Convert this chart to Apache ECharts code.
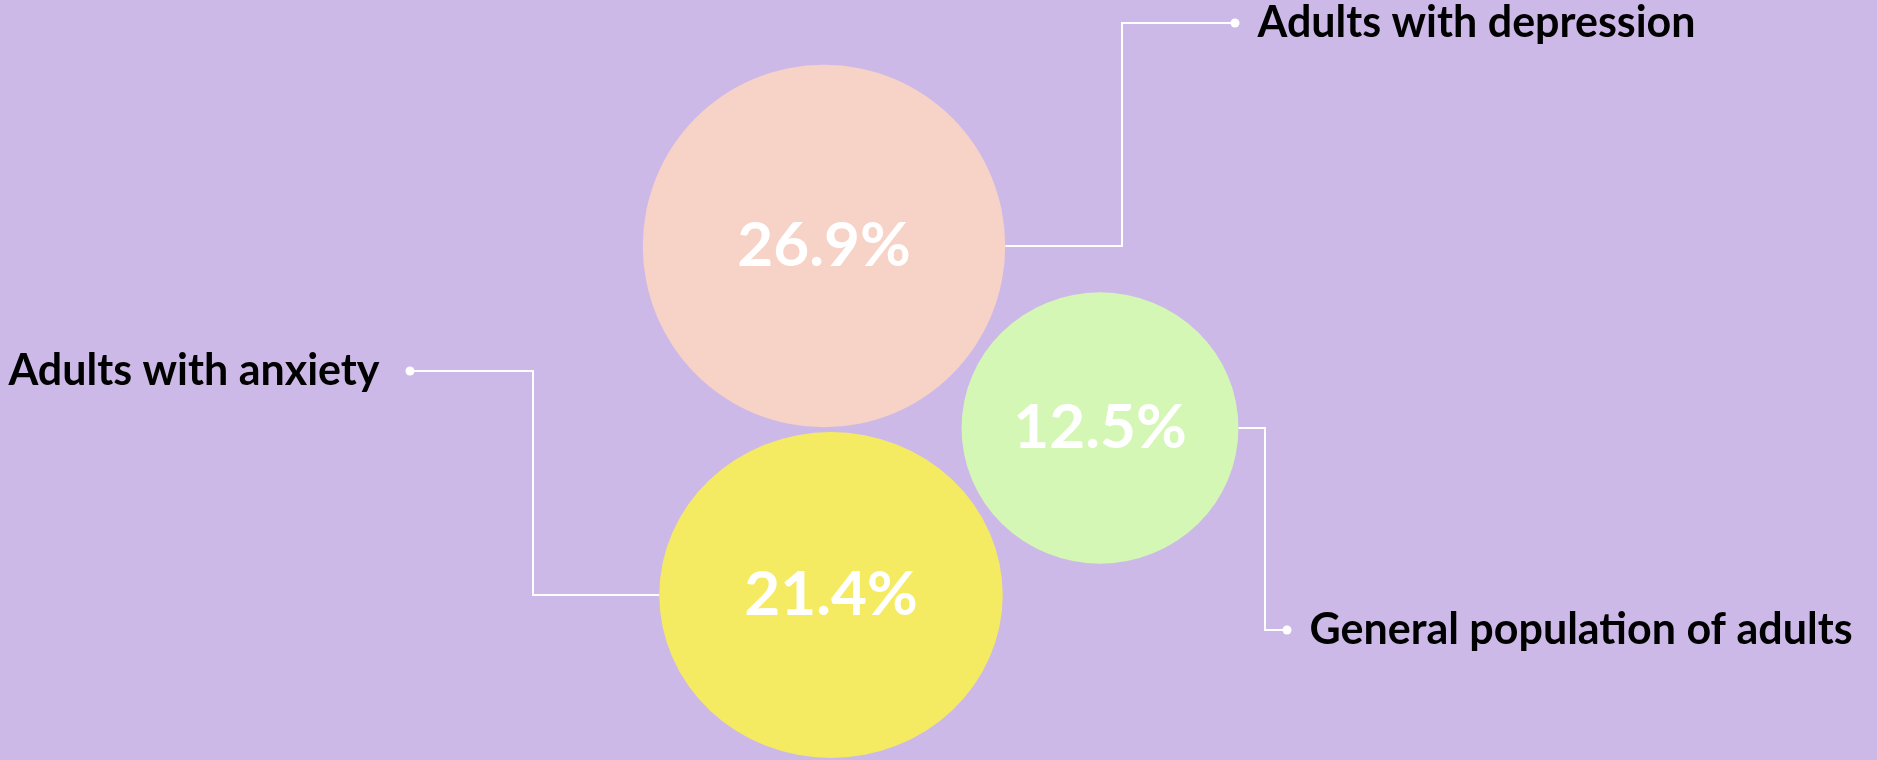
<!DOCTYPE html>
<html>
<head>
<meta charset="utf-8">
<script src="https://cdn.jsdelivr.net/npm/echarts@6/dist/echarts.min.js"></script>
<style>
  html, body { margin: 0; padding: 0; background: #cdb9e8; }
  #main { width: 1877px; height: 760px; }
</style>
</head>
<body>
<div id="main"></div>
<script>
// data
var categories = ['Adults with depression', 'General population of adults', 'Adults with anxiety'];
var values = [26.9, 12.5, 21.4];

// layout (canvas units), kept apart from the data
var centers = [[824, 246], [1100, 428], [831, 595]];
var stretch = [[1, 1], [1.005, 0.985], [1.043, 0.99]];
var colors = ['#f7d2c6', '#d5f7b6', '#f4eb63'];
var leaderSide = ['right', 'right', 'left'];
var leaderGap = [18, 18, 26];
var leaderElbowX = [1122, 1265, 533];
var leaderEnd = [[1235, 23], [1287, 630], [410, 371]];

// bubble diameter grows with the value
function diameter(v) { return 200 + 6.04 * v; }

var chart = echarts.init(document.getElementById('main'));

var bubbleData = values.map(function (v, i) {
  var d = diameter(v);
  return {
    name: categories[i],
    value: [centers[i][0], centers[i][1], v],
    symbolSize: [d * stretch[i][0], d * stretch[i][1]],
    itemStyle: { color: colors[i], opacity: 1 }
  };
});

var leaderData = values.map(function (v, i) {
  var w = diameter(v) * stretch[i][0];
  var cx = centers[i][0], cy = centers[i][1];
  var edgeX = leaderSide[i] === 'right' ? cx + w / 2 : cx - w / 2;
  return {
    coords: [[edgeX, cy], [leaderElbowX[i], cy], [leaderElbowX[i], leaderEnd[i][1]], leaderEnd[i]]
  };
});

var endData = categories.map(function (c, i) {
  return {
    name: c,
    value: leaderEnd[i],
    label: { position: leaderSide[i], distance: leaderGap[i] }
  };
});

var option = {
  backgroundColor: '#cdb9e8',
  animation: false,
  grid: { left: 0, right: 0, top: 0, bottom: 0 },
  xAxis: { type: 'value', min: 0, max: 1877, show: false },
  yAxis: { type: 'value', min: 0, max: 760, inverse: true, show: false },
  series: [
    {
      type: 'lines',
      coordinateSystem: 'cartesian2d',
      polyline: true,
      silent: true,
      z: 1,
      lineStyle: { color: '#ffffff', width: 2, opacity: 1 },
      data: leaderData
    },
    {
      type: 'scatter',
      z: 2,
      symbol: 'circle',
      data: bubbleData,
      label: {
        show: true,
        position: 'inside',
        color: '#ffffff',
        fontFamily: 'Lato',
        fontWeight: 'bold',
        fontSize: 62,
        formatter: function (p) { return p.value[2].toFixed(1) + '%'; }
      }
    },
    {
      type: 'scatter',
      z: 3,
      symbol: 'circle',
      symbolSize: 9,
      itemStyle: { color: '#ffffff', opacity: 1 },
      data: endData,
      label: {
        show: true,
        color: '#000000',
        fontFamily: 'Lato',
        fontWeight: 'bold',
        fontSize: 43,
        formatter: '{b}'
      }
    }
  ]
};

chart.setOption(option);
</script>
</body>
</html>
